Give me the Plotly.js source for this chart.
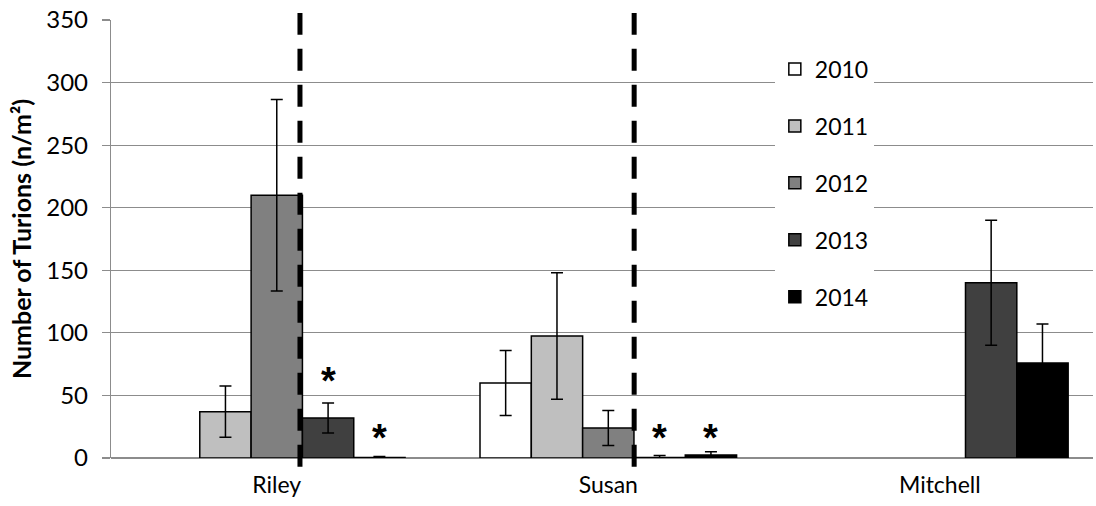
<!DOCTYPE html>
<html>
<head>
<meta charset="utf-8">
<script src="https://cdn.plot.ly/plotly-3.0.1.min.js"></script>
<style>
  html, body { margin: 0; padding: 0; background: #ffffff; }
  #chart { width: 1096px; height: 506px; }
</style>
</head>
<body>
<div id="chart"></div>
<script>
// Turion density by site and year (mean with error)
const sites = ['Riley', 'Susan', 'Mitchell'];
const years = ['2010', '2011', '2012', '2013', '2014'];

const mean2010 = [null, 60, null];
const err2010  = [null, 26, null];
const mean2011 = [37, 97.5, null];
const err2011  = [20.5, 50.5, null];
const mean2012 = [210, 24, null];
const err2012  = [76.5, 14, null];
const mean2013 = [32, 0.3, 140];
const err2013  = [12, 1.6, 50];
const mean2014 = [0.3, 2.4, 76];
const err2014  = [0.8, 2.6, 31];

// Significance markers: site, year, height of the star
const starSite = ['Riley', 'Riley', 'Susan', 'Susan'];
const starYear = ['2013', '2014', '2013', '2014'];
const starY    = [68, 22, 22, 22];

const fills = ['#ffffff', '#bfbfbf', '#808080', '#404040', '#000000'];
const means = [mean2010, mean2011, mean2012, mean2013, mean2014];
const errs  = [err2010, err2011, err2012, err2013, err2014];

const FONT = 'Lato, "Open Sans", sans-serif';
const BARGAP = 0.226;
const barW = (1 - BARGAP) / years.length;
const siteX = sites.map((_, i) => i);

const traces = years.map((yr, k) => ({
  type: 'bar',
  name: yr,
  x: siteX,
  y: means[k],
  legendgroup: yr,
  marker: { color: fills[k], line: { color: '#000000', width: 1.5 } },
  error_y: { type: 'data', array: errs[k], visible: true, color: '#000000', thickness: 1.5, width: 6 },
  hoverinfo: 'skip'
}));

const annotations = starSite.map((s, i) => ({
  x: sites.indexOf(s) + (years.indexOf(starYear[i]) - 2) * barW,
  y: starY[i],
  xref: 'x', yref: 'y',
  text: '<b>*</b>',
  showarrow: false,
  font: { family: '"Liberation Sans", Arial, sans-serif', size: 38, color: '#000000' },
  xanchor: 'center', yanchor: 'middle',
  yshift: -8
}));

// Dashed dividers drawn between the 2012 and 2013 bars of Riley and Susan
const dividers = [0.07, 1.078];
const shapes = dividers.map(d => ({
  type: 'line',
  xref: 'x', yref: 'paper',
  x0: d, x1: d, y0: -0.02, y1: 1.016,
  line: { color: '#000000', width: 5, dash: '22px,14px' },
  layer: 'above'
}));

const layout = {
  width: 1096,
  height: 506,
  margin: { l: 111, r: 3, t: 20, b: 48 },
  paper_bgcolor: '#ffffff',
  plot_bgcolor: '#ffffff',
  barmode: 'group',
  bargap: BARGAP,
  bargroupgap: 0,
  font: { family: FONT, size: 22, color: '#000000' },
  xaxis: {
    range: [-0.5, 2.462],
    tickvals: siteX,
    ticktext: sites,
    showgrid: false,
    zeroline: false,
    showline: false,
    ticks: '',
    ticklabelstandoff: 11,
    tickfont: { family: FONT, size: 23, color: '#000000' },
    fixedrange: true
  },
  yaxis: {
    range: [0, 350],
    tick0: 0,
    dtick: 50,
    showgrid: true,
    gridcolor: '#8c8c8c',
    gridwidth: 1.2,
    zeroline: true,
    zerolinecolor: '#8c8c8c',
    zerolinewidth: 1.5,
    showline: true,
    linecolor: '#8c8c8c',
    linewidth: 1.2,
    ticks: 'outside',
    ticklen: 8,
    tickcolor: '#8c8c8c',
    tickwidth: 1.2,
    ticklabelstandoff: 9,
    tickfont: { family: FONT, size: 24, color: '#000000' },
    title: {
      text: '<b>Number of Turions (n/m²)</b>',
      font: { family: FONT, size: 25, color: '#000000' },
      standoff: 7
    },
    fixedrange: true
  },
  showlegend: true,
  legend: {
    x: 0.676,
    y: 0.937,
    xanchor: 'left',
    yanchor: 'top',
    bgcolor: '#ffffff',
    borderwidth: 0,
    tracegroupgap: 24,
    traceorder: 'grouped',
    font: { family: FONT, size: 23, color: '#000000' }
  },
  annotations: annotations,
  shapes: shapes
};

Plotly.newPlot('chart', traces, layout, { displayModeBar: false, staticPlot: true });
</script>
</body>
</html>
